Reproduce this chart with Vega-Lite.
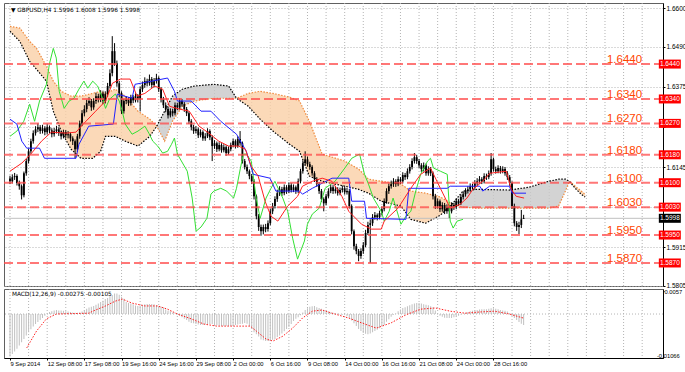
{
"$schema": "https://vega.github.io/schema/vega-lite/v6.json",
"background": "white",
"padding": {"left": 2, "top": 2, "right": 0, "bottom": 0},
"spacing": 3,
"bounds": "flush",
"resolve": {"scale": {"x": "independent", "y": "independent"}},
"config": {
  "view": {"stroke": "#606060", "strokeWidth": 1},
  "font": "Liberation Sans",
  "axis": {"labelFont": "Liberation Sans", "labelColor": "#000", "domainColor": "#000", "tickColor": "#000", "gridColor": "#B4B4B4", "gridDash": [1, 2], "title": null, "labelOverlap": false, "labelBound": false, "labelFlush": false}
},
"datasets": {
"candles": [
{"i":0,"o":1.6112,"h":1.6120,"l":1.6096,"c":1.6104,"m":-0.0105},
{"i":1,"o":1.6104,"h":1.6124,"l":1.6098,"c":1.6116,"m":-0.0099},
{"i":2,"o":1.6116,"h":1.6128,"l":1.6108,"c":1.6119,"m":-0.0093},
{"i":3,"o":1.6119,"h":1.6124,"l":1.6092,"c":1.6099,"m":-0.0086},
{"i":4,"o":1.6099,"h":1.6106,"l":1.6080,"c":1.6090,"m":-0.0078},
{"i":5,"o":1.6090,"h":1.6095,"l":1.6052,"c":1.6064,"m":-0.0070},
{"i":6,"o":1.6064,"h":1.6132,"l":1.6058,"c":1.6127,"m":-0.0062},
{"i":7,"o":1.6127,"h":1.6168,"l":1.6120,"c":1.6162,"m":-0.0053},
{"i":8,"o":1.6162,"h":1.6198,"l":1.6155,"c":1.6190,"m":-0.0045},
{"i":9,"o":1.6190,"h":1.6226,"l":1.6183,"c":1.6219,"m":-0.0038},
{"i":10,"o":1.6219,"h":1.6250,"l":1.6212,"c":1.6242,"m":-0.0031},
{"i":11,"o":1.6242,"h":1.6262,"l":1.6235,"c":1.6253,"m":-0.0025},
{"i":12,"o":1.6253,"h":1.6270,"l":1.6245,"c":1.6259,"m":-0.0020},
{"i":13,"o":1.6259,"h":1.6265,"l":1.6240,"c":1.6248,"m":-0.0015},
{"i":14,"o":1.6248,"h":1.6266,"l":1.6241,"c":1.6256,"m":-0.0010},
{"i":15,"o":1.6256,"h":1.6262,"l":1.6236,"c":1.6245,"m":-0.0004},
{"i":16,"o":1.6245,"h":1.6268,"l":1.6238,"c":1.6259,"m":0.0001},
{"i":17,"o":1.6259,"h":1.6264,"l":1.6242,"c":1.6250,"m":0.0005},
{"i":18,"o":1.6250,"h":1.6256,"l":1.6230,"c":1.6239,"m":0.0007},
{"i":19,"o":1.6239,"h":1.6257,"l":1.6232,"c":1.6248,"m":0.0009},
{"i":20,"o":1.6248,"h":1.6263,"l":1.6241,"c":1.6253,"m":0.0010},
{"i":21,"o":1.6253,"h":1.6259,"l":1.6234,"c":1.6242,"m":0.0009},
{"i":22,"o":1.6242,"h":1.6249,"l":1.6224,"c":1.6233,"m":0.0009},
{"i":23,"o":1.6233,"h":1.6252,"l":1.6227,"c":1.6245,"m":0.0008},
{"i":24,"o":1.6245,"h":1.6251,"l":1.6228,"c":1.6236,"m":0.0007},
{"i":25,"o":1.6236,"h":1.6248,"l":1.6227,"c":1.6239,"m":0.0006},
{"i":26,"o":1.6239,"h":1.6244,"l":1.6218,"c":1.6227,"m":0.0005},
{"i":27,"o":1.6227,"h":1.6233,"l":1.6208,"c":1.6219,"m":0.0004},
{"i":28,"o":1.6219,"h":1.6224,"l":1.6170,"c":1.6196,"m":0.0003},
{"i":29,"o":1.6196,"h":1.6240,"l":1.6188,"c":1.6233,"m":0.0003},
{"i":30,"o":1.6233,"h":1.6278,"l":1.6226,"c":1.6270,"m":0.0004},
{"i":31,"o":1.6270,"h":1.6308,"l":1.6262,"c":1.6299,"m":0.0006},
{"i":32,"o":1.6299,"h":1.6322,"l":1.6290,"c":1.6311,"m":0.0010},
{"i":33,"o":1.6311,"h":1.6338,"l":1.6302,"c":1.6328,"m":0.0013},
{"i":34,"o":1.6328,"h":1.6345,"l":1.6320,"c":1.6334,"m":0.0016},
{"i":35,"o":1.6334,"h":1.6340,"l":1.6306,"c":1.6316,"m":0.0018},
{"i":36,"o":1.6316,"h":1.6342,"l":1.6309,"c":1.6334,"m":0.0020},
{"i":37,"o":1.6334,"h":1.6358,"l":1.6326,"c":1.6348,"m":0.0023},
{"i":38,"o":1.6348,"h":1.6355,"l":1.6330,"c":1.6339,"m":0.0026},
{"i":39,"o":1.6339,"h":1.6365,"l":1.6331,"c":1.6356,"m":0.0030},
{"i":40,"o":1.6356,"h":1.6362,"l":1.6325,"c":1.6334,"m":0.0033},
{"i":41,"o":1.6334,"h":1.6362,"l":1.6327,"c":1.6354,"m":0.0037},
{"i":42,"o":1.6354,"h":1.6386,"l":1.6346,"c":1.6377,"m":0.0040},
{"i":43,"o":1.6377,"h":1.6425,"l":1.6370,"c":1.6414,"m":0.0044},
{"i":44,"o":1.6414,"h":1.6520,"l":1.6405,"c":1.6477,"m":0.0047},
{"i":45,"o":1.6477,"h":1.6500,"l":1.6435,"c":1.6442,"m":0.0051},
{"i":46,"o":1.6442,"h":1.6450,"l":1.6375,"c":1.6385,"m":0.0051},
{"i":47,"o":1.6385,"h":1.6392,"l":1.6345,"c":1.6356,"m":0.0048},
{"i":48,"o":1.6356,"h":1.6362,"l":1.6297,"c":1.6305,"m":0.0043},
{"i":49,"o":1.6305,"h":1.6340,"l":1.6298,"c":1.6334,"m":0.0038},
{"i":50,"o":1.6334,"h":1.6348,"l":1.6325,"c":1.6339,"m":0.0030},
{"i":51,"o":1.6339,"h":1.6345,"l":1.6320,"c":1.6328,"m":0.0027},
{"i":52,"o":1.6328,"h":1.6352,"l":1.6321,"c":1.6345,"m":0.0026},
{"i":53,"o":1.6345,"h":1.6351,"l":1.6328,"c":1.6336,"m":0.0024},
{"i":54,"o":1.6336,"h":1.6356,"l":1.6330,"c":1.6348,"m":0.0021},
{"i":55,"o":1.6348,"h":1.6354,"l":1.6330,"c":1.6339,"m":0.0020},
{"i":56,"o":1.6339,"h":1.6376,"l":1.6305,"c":1.6368,"m":0.0021},
{"i":57,"o":1.6368,"h":1.6390,"l":1.6360,"c":1.6380,"m":0.0023},
{"i":58,"o":1.6380,"h":1.6402,"l":1.6372,"c":1.6391,"m":0.0024},
{"i":59,"o":1.6391,"h":1.6398,"l":1.6376,"c":1.6385,"m":0.0025},
{"i":60,"o":1.6385,"h":1.6410,"l":1.6378,"c":1.6397,"m":0.0025},
{"i":61,"o":1.6397,"h":1.6403,"l":1.6372,"c":1.6380,"m":0.0025},
{"i":62,"o":1.6380,"h":1.6400,"l":1.6373,"c":1.6391,"m":0.0024},
{"i":63,"o":1.6391,"h":1.6412,"l":1.6384,"c":1.6400,"m":0.0022},
{"i":64,"o":1.6400,"h":1.6405,"l":1.6360,"c":1.6368,"m":0.0020},
{"i":65,"o":1.6368,"h":1.6374,"l":1.6330,"c":1.6339,"m":0.0018},
{"i":66,"o":1.6339,"h":1.6346,"l":1.6314,"c":1.6322,"m":0.0016},
{"i":67,"o":1.6322,"h":1.6330,"l":1.6302,"c":1.6311,"m":0.0011},
{"i":68,"o":1.6311,"h":1.6318,"l":1.6284,"c":1.6293,"m":0.0008},
{"i":69,"o":1.6293,"h":1.6313,"l":1.6287,"c":1.6305,"m":0.0007},
{"i":70,"o":1.6305,"h":1.6312,"l":1.6290,"c":1.6299,"m":0.0004},
{"i":71,"o":1.6299,"h":1.6330,"l":1.6293,"c":1.6322,"m":0.0001},
{"i":72,"o":1.6322,"h":1.6329,"l":1.6308,"c":1.6316,"m":-0.0001},
{"i":73,"o":1.6316,"h":1.6342,"l":1.6310,"c":1.6334,"m":-0.0005},
{"i":74,"o":1.6334,"h":1.6340,"l":1.6318,"c":1.6325,"m":-0.0008},
{"i":75,"o":1.6325,"h":1.6331,"l":1.6303,"c":1.6311,"m":-0.0012},
{"i":76,"o":1.6311,"h":1.6317,"l":1.6291,"c":1.6299,"m":-0.0015},
{"i":77,"o":1.6299,"h":1.6304,"l":1.6268,"c":1.6276,"m":-0.0019},
{"i":78,"o":1.6276,"h":1.6282,"l":1.6250,"c":1.6259,"m":-0.0022},
{"i":79,"o":1.6259,"h":1.6266,"l":1.6240,"c":1.6248,"m":-0.0023},
{"i":80,"o":1.6248,"h":1.6262,"l":1.6241,"c":1.6253,"m":-0.0025},
{"i":81,"o":1.6253,"h":1.6258,"l":1.6228,"c":1.6236,"m":-0.0026},
{"i":82,"o":1.6236,"h":1.6253,"l":1.6230,"c":1.6245,"m":-0.0027},
{"i":83,"o":1.6245,"h":1.6250,"l":1.6220,"c":1.6227,"m":-0.0027},
{"i":84,"o":1.6227,"h":1.6242,"l":1.6220,"c":1.6233,"m":-0.0026},
{"i":85,"o":1.6233,"h":1.6256,"l":1.6228,"c":1.6248,"m":-0.0026},
{"i":86,"o":1.6248,"h":1.6253,"l":1.6222,"c":1.6230,"m":-0.0025},
{"i":87,"o":1.6230,"h":1.6236,"l":1.6162,"c":1.6205,"m":-0.0025},
{"i":88,"o":1.6205,"h":1.6222,"l":1.6197,"c":1.6213,"m":-0.0027},
{"i":89,"o":1.6213,"h":1.6218,"l":1.6188,"c":1.6196,"m":-0.0028},
{"i":90,"o":1.6196,"h":1.6216,"l":1.6190,"c":1.6208,"m":-0.0029},
{"i":91,"o":1.6208,"h":1.6213,"l":1.6186,"c":1.6193,"m":-0.0030},
{"i":92,"o":1.6193,"h":1.6210,"l":1.6187,"c":1.6202,"m":-0.0030},
{"i":93,"o":1.6202,"h":1.6207,"l":1.6177,"c":1.6185,"m":-0.0030},
{"i":94,"o":1.6185,"h":1.6204,"l":1.6180,"c":1.6196,"m":-0.0030},
{"i":95,"o":1.6196,"h":1.6215,"l":1.6190,"c":1.6208,"m":-0.0030},
{"i":96,"o":1.6208,"h":1.6226,"l":1.6202,"c":1.6219,"m":-0.0029},
{"i":97,"o":1.6219,"h":1.6224,"l":1.6198,"c":1.6205,"m":-0.0027},
{"i":98,"o":1.6205,"h":1.6233,"l":1.6200,"c":1.6225,"m":-0.0026},
{"i":99,"o":1.6225,"h":1.6248,"l":1.6206,"c":1.6213,"m":-0.0025},
{"i":100,"o":1.6213,"h":1.6218,"l":1.6155,"c":1.6162,"m":-0.0024},
{"i":101,"o":1.6162,"h":1.6168,"l":1.6138,"c":1.6145,"m":-0.0022},
{"i":102,"o":1.6145,"h":1.6152,"l":1.6125,"c":1.6133,"m":-0.0024},
{"i":103,"o":1.6133,"h":1.6138,"l":1.6110,"c":1.6119,"m":-0.0030},
{"i":104,"o":1.6119,"h":1.6125,"l":1.6096,"c":1.6104,"m":-0.0037},
{"i":105,"o":1.6104,"h":1.6110,"l":1.6052,"c":1.6061,"m":-0.0045},
{"i":106,"o":1.6061,"h":1.6066,"l":1.5995,"c":1.6004,"m":-0.0050},
{"i":107,"o":1.6004,"h":1.6010,"l":1.5962,"c":1.5973,"m":-0.0056},
{"i":108,"o":1.5973,"h":1.5980,"l":1.5948,"c":1.5961,"m":-0.0063},
{"i":109,"o":1.5961,"h":1.5980,"l":1.5952,"c":1.5973,"m":-0.0065},
{"i":110,"o":1.5973,"h":1.5982,"l":1.5958,"c":1.5967,"m":-0.0067},
{"i":111,"o":1.5967,"h":1.5992,"l":1.5960,"c":1.5984,"m":-0.0067},
{"i":112,"o":1.5984,"h":1.6026,"l":1.5978,"c":1.6018,"m":-0.0067},
{"i":113,"o":1.6018,"h":1.6042,"l":1.6010,"c":1.6033,"m":-0.0064},
{"i":114,"o":1.6033,"h":1.6061,"l":1.6026,"c":1.6053,"m":-0.0062},
{"i":115,"o":1.6053,"h":1.6080,"l":1.6045,"c":1.6070,"m":-0.0057},
{"i":116,"o":1.6070,"h":1.6090,"l":1.6062,"c":1.6081,"m":-0.0053},
{"i":117,"o":1.6081,"h":1.6088,"l":1.6062,"c":1.6070,"m":-0.0048},
{"i":118,"o":1.6070,"h":1.6095,"l":1.6064,"c":1.6087,"m":-0.0043},
{"i":119,"o":1.6087,"h":1.6093,"l":1.6068,"c":1.6076,"m":-0.0037},
{"i":120,"o":1.6076,"h":1.6101,"l":1.6070,"c":1.6093,"m":-0.0032},
{"i":121,"o":1.6093,"h":1.6099,"l":1.6072,"c":1.6079,"m":-0.0025},
{"i":122,"o":1.6079,"h":1.6095,"l":1.6073,"c":1.6087,"m":-0.0017},
{"i":123,"o":1.6087,"h":1.6092,"l":1.6068,"c":1.6076,"m":-0.0012},
{"i":124,"o":1.6076,"h":1.6112,"l":1.6070,"c":1.6104,"m":-0.0008},
{"i":125,"o":1.6104,"h":1.6140,"l":1.6098,"c":1.6133,"m":-0.0003},
{"i":126,"o":1.6133,"h":1.6164,"l":1.6126,"c":1.6156,"m":0.0004},
{"i":127,"o":1.6156,"h":1.6190,"l":1.6150,"c":1.6167,"m":0.0010},
{"i":128,"o":1.6167,"h":1.6175,"l":1.6146,"c":1.6153,"m":0.0014},
{"i":129,"o":1.6153,"h":1.6160,"l":1.6137,"c":1.6145,"m":0.0018},
{"i":130,"o":1.6145,"h":1.6150,"l":1.6120,"c":1.6127,"m":0.0019},
{"i":131,"o":1.6127,"h":1.6133,"l":1.6102,"c":1.6110,"m":0.0020},
{"i":132,"o":1.6110,"h":1.6116,"l":1.6088,"c":1.6096,"m":0.0017},
{"i":133,"o":1.6096,"h":1.6102,"l":1.6068,"c":1.6076,"m":0.0015},
{"i":134,"o":1.6076,"h":1.6082,"l":1.6045,"c":1.6053,"m":0.0013},
{"i":135,"o":1.6053,"h":1.6058,"l":1.6018,"c":1.6041,"m":0.0010},
{"i":136,"o":1.6041,"h":1.6068,"l":1.6035,"c":1.6061,"m":0.0008},
{"i":137,"o":1.6061,"h":1.6084,"l":1.6055,"c":1.6076,"m":0.0006},
{"i":138,"o":1.6076,"h":1.6095,"l":1.6070,"c":1.6087,"m":0.0004},
{"i":139,"o":1.6087,"h":1.6093,"l":1.6068,"c":1.6076,"m":0.0003},
{"i":140,"o":1.6076,"h":1.6090,"l":1.6069,"c":1.6081,"m":0.0002},
{"i":141,"o":1.6081,"h":1.6087,"l":1.6063,"c":1.6070,"m":0.0001},
{"i":142,"o":1.6070,"h":1.6086,"l":1.6064,"c":1.6079,"m":-0.0001},
{"i":143,"o":1.6079,"h":1.6092,"l":1.6072,"c":1.6084,"m":-0.0002},
{"i":144,"o":1.6084,"h":1.6090,"l":1.6066,"c":1.6073,"m":-0.0002},
{"i":145,"o":1.6073,"h":1.6085,"l":1.6066,"c":1.6076,"m":-0.0005},
{"i":146,"o":1.6076,"h":1.6082,"l":1.6026,"c":1.6033,"m":-0.0009},
{"i":147,"o":1.6033,"h":1.6038,"l":1.5952,"c":1.5961,"m":-0.0016},
{"i":148,"o":1.5961,"h":1.5966,"l":1.5908,"c":1.5918,"m":-0.0023},
{"i":149,"o":1.5918,"h":1.5925,"l":1.5895,"c":1.5904,"m":-0.0030},
{"i":150,"o":1.5904,"h":1.5910,"l":1.5875,"c":1.5890,"m":-0.0037},
{"i":151,"o":1.5890,"h":1.5912,"l":1.5882,"c":1.5904,"m":-0.0042},
{"i":152,"o":1.5904,"h":1.5930,"l":1.5896,"c":1.5921,"m":-0.0047},
{"i":153,"o":1.5921,"h":1.5965,"l":1.5915,"c":1.5956,"m":-0.0049},
{"i":154,"o":1.5956,"h":1.5988,"l":1.5950,"c":1.5979,"m":-0.0050},
{"i":155,"o":1.5979,"h":1.5995,"l":1.5870,"c":1.5984,"m":-0.0048},
{"i":156,"o":1.5984,"h":1.6010,"l":1.5976,"c":1.6001,"m":-0.0045},
{"i":157,"o":1.6001,"h":1.6016,"l":1.5994,"c":1.6007,"m":-0.0042},
{"i":158,"o":1.6007,"h":1.6012,"l":1.5992,"c":1.6001,"m":-0.0039},
{"i":159,"o":1.6001,"h":1.6020,"l":1.5995,"c":1.6013,"m":-0.0035},
{"i":160,"o":1.6013,"h":1.6032,"l":1.6006,"c":1.6024,"m":-0.0030},
{"i":161,"o":1.6024,"h":1.6055,"l":1.6018,"c":1.6047,"m":-0.0027},
{"i":162,"o":1.6047,"h":1.6084,"l":1.6040,"c":1.6076,"m":-0.0019},
{"i":163,"o":1.6076,"h":1.6098,"l":1.6068,"c":1.6090,"m":-0.0013},
{"i":164,"o":1.6090,"h":1.6106,"l":1.6083,"c":1.6096,"m":-0.0007},
{"i":165,"o":1.6096,"h":1.6113,"l":1.6088,"c":1.6104,"m":-0.0002},
{"i":166,"o":1.6104,"h":1.6110,"l":1.6088,"c":1.6096,"m":0.0001},
{"i":167,"o":1.6096,"h":1.6118,"l":1.6090,"c":1.6110,"m":0.0007},
{"i":168,"o":1.6110,"h":1.6116,"l":1.6096,"c":1.6104,"m":0.0011},
{"i":169,"o":1.6104,"h":1.6130,"l":1.6098,"c":1.6122,"m":0.0015},
{"i":170,"o":1.6122,"h":1.6128,"l":1.6108,"c":1.6116,"m":0.0017},
{"i":171,"o":1.6116,"h":1.6141,"l":1.6110,"c":1.6133,"m":0.0019},
{"i":172,"o":1.6133,"h":1.6153,"l":1.6126,"c":1.6145,"m":0.0022},
{"i":173,"o":1.6145,"h":1.6170,"l":1.6138,"c":1.6162,"m":0.0024},
{"i":174,"o":1.6162,"h":1.6185,"l":1.6155,"c":1.6173,"m":0.0026},
{"i":175,"o":1.6173,"h":1.6180,"l":1.6154,"c":1.6162,"m":0.0027},
{"i":176,"o":1.6162,"h":1.6168,"l":1.6142,"c":1.6150,"m":0.0027},
{"i":177,"o":1.6150,"h":1.6156,"l":1.6131,"c":1.6139,"m":0.0026},
{"i":178,"o":1.6139,"h":1.6158,"l":1.6132,"c":1.6150,"m":0.0024},
{"i":179,"o":1.6150,"h":1.6155,"l":1.6120,"c":1.6127,"m":0.0023},
{"i":180,"o":1.6127,"h":1.6147,"l":1.6120,"c":1.6139,"m":0.0022},
{"i":181,"o":1.6139,"h":1.6145,"l":1.6119,"c":1.6127,"m":0.0019},
{"i":182,"o":1.6127,"h":1.6132,"l":1.6052,"c":1.6061,"m":0.0017},
{"i":183,"o":1.6061,"h":1.6068,"l":1.6025,"c":1.6033,"m":0.0009},
{"i":184,"o":1.6033,"h":1.6055,"l":1.6026,"c":1.6047,"m":0.0002},
{"i":185,"o":1.6047,"h":1.6052,"l":1.6016,"c":1.6024,"m":-0.0004},
{"i":186,"o":1.6024,"h":1.6044,"l":1.6017,"c":1.6036,"m":-0.0007},
{"i":187,"o":1.6036,"h":1.6042,"l":1.6010,"c":1.6018,"m":-0.0009},
{"i":188,"o":1.6018,"h":1.6038,"l":1.6011,"c":1.6030,"m":-0.0010},
{"i":189,"o":1.6030,"h":1.6035,"l":1.5999,"c":1.6018,"m":-0.0010},
{"i":190,"o":1.6018,"h":1.6044,"l":1.6012,"c":1.6036,"m":-0.0010},
{"i":191,"o":1.6036,"h":1.6042,"l":1.6022,"c":1.6030,"m":-0.0008},
{"i":192,"o":1.6030,"h":1.6055,"l":1.6024,"c":1.6047,"m":-0.0006},
{"i":193,"o":1.6047,"h":1.6053,"l":1.6034,"c":1.6041,"m":-0.0004},
{"i":194,"o":1.6041,"h":1.6066,"l":1.6036,"c":1.6059,"m":-0.0001},
{"i":195,"o":1.6059,"h":1.6075,"l":1.6052,"c":1.6067,"m":0.0000},
{"i":196,"o":1.6067,"h":1.6084,"l":1.6060,"c":1.6076,"m":0.0003},
{"i":197,"o":1.6076,"h":1.6090,"l":1.6069,"c":1.6081,"m":0.0005},
{"i":198,"o":1.6081,"h":1.6098,"l":1.6074,"c":1.6090,"m":0.0007},
{"i":199,"o":1.6090,"h":1.6097,"l":1.6080,"c":1.6087,"m":0.0008},
{"i":200,"o":1.6087,"h":1.6107,"l":1.6080,"c":1.6099,"m":0.0009},
{"i":201,"o":1.6099,"h":1.6113,"l":1.6092,"c":1.6104,"m":0.0010},
{"i":202,"o":1.6104,"h":1.6119,"l":1.6097,"c":1.6110,"m":0.0011},
{"i":203,"o":1.6110,"h":1.6116,"l":1.6096,"c":1.6104,"m":0.0012},
{"i":204,"o":1.6104,"h":1.6127,"l":1.6098,"c":1.6119,"m":0.0012},
{"i":205,"o":1.6119,"h":1.6126,"l":1.6108,"c":1.6116,"m":0.0012},
{"i":206,"o":1.6116,"h":1.6135,"l":1.6110,"c":1.6127,"m":0.0013},
{"i":207,"o":1.6127,"h":1.6185,"l":1.6120,"c":1.6167,"m":0.0014},
{"i":208,"o":1.6167,"h":1.6172,"l":1.6132,"c":1.6139,"m":0.0014},
{"i":209,"o":1.6139,"h":1.6146,"l":1.6126,"c":1.6133,"m":0.0013},
{"i":210,"o":1.6133,"h":1.6150,"l":1.6127,"c":1.6142,"m":0.0012},
{"i":211,"o":1.6142,"h":1.6148,"l":1.6126,"c":1.6133,"m":0.0010},
{"i":212,"o":1.6133,"h":1.6147,"l":1.6127,"c":1.6139,"m":0.0009},
{"i":213,"o":1.6139,"h":1.6145,"l":1.6120,"c":1.6127,"m":0.0008},
{"i":214,"o":1.6127,"h":1.6133,"l":1.6108,"c":1.6116,"m":0.0006},
{"i":215,"o":1.6116,"h":1.6122,"l":1.6091,"c":1.6099,"m":0.0002},
{"i":216,"o":1.6099,"h":1.6104,"l":1.6025,"c":1.6033,"m":-0.0004},
{"i":217,"o":1.6033,"h":1.6040,"l":1.5975,"c":1.5984,"m":-0.0010},
{"i":218,"o":1.5984,"h":1.5990,"l":1.5962,"c":1.5973,"m":-0.0015},
{"i":219,"o":1.5973,"h":1.5988,"l":1.5953,"c":1.5979,"m":-0.0020},
{"i":220,"o":1.5979,"h":1.6022,"l":1.5970,"c":1.5995,"m":-0.0024},
{"i":221,"o":1.5996,"h":1.6008,"l":1.5996,"c":1.5998,"m":-0.00275}
],
"tenkan": [
{"i":0,"v":1.6133},{"i":5.08,"v":1.6156},{"i":9.32,"v":1.6185},{"i":13.56,"v":1.6219},{"i":17.8,"v":1.6245},{"i":24.15,"v":1.6242},{"i":28.4,"v":1.6245},{"i":31.8,"v":1.627},{"i":36.86,"v":1.6305},{"i":41.1,"v":1.6334},{"i":44.07,"v":1.6385},{"i":47.46,"v":1.6397},{"i":51.7,"v":1.6397},{"i":54.66,"v":1.6348},{"i":58.05,"v":1.6356},{"i":62.29,"v":1.6377},{"i":65.68,"v":1.6368},{"i":68.64,"v":1.6319},{"i":72.88,"v":1.6311},{"i":77.12,"v":1.6305},{"i":81.36,"v":1.6262},{"i":85.59,"v":1.6242},{"i":89.83,"v":1.6219},{"i":94.07,"v":1.6205},{"i":98.3,"v":1.6205},{"i":101.27,"v":1.6196},{"i":103.81,"v":1.6147},{"i":106.78,"v":1.6119},{"i":109.75,"v":1.6047},{"i":112.29,"v":1.6004},{"i":115.25,"v":1.599},{"i":119.49,"v":1.6033},{"i":123.73,"v":1.6061},{"i":125.85,"v":1.609},{"i":130.08,"v":1.6104},{"i":134.32,"v":1.6113},{"i":138.56,"v":1.6104},{"i":142.8,"v":1.6061},{"i":145.76,"v":1.6018},{"i":151.27,"v":1.5981},{"i":155.51,"v":1.5967},{"i":159.75,"v":1.5967},{"i":161.02,"v":1.599},{"i":166.95,"v":1.6027},{"i":172.46,"v":1.6084},{"i":176.69,"v":1.6124},{"i":180.93,"v":1.6142},{"i":185.17,"v":1.6084},{"i":189.41,"v":1.6027},{"i":193.64,"v":1.6038},{"i":196.61,"v":1.6056},{"i":199.15,"v":1.6081},{"i":203.39,"v":1.6104},{"i":206.36,"v":1.6127},{"i":213.56,"v":1.6133},{"i":215.68,"v":1.6081},{"i":217.8,"v":1.6061},{"i":221.19,"v":1.6056}
],
"kijun": [
{"i":0,"v":1.6282},{"i":2.97,"v":1.6268},{"i":5.08,"v":1.6219},{"i":7.2,"v":1.6199},{"i":12.71,"v":1.6199},{"i":14.83,"v":1.617},{"i":28.39,"v":1.617},{"i":29.66,"v":1.621},{"i":33.9,"v":1.6262},{"i":44.49,"v":1.6268},{"i":46.19,"v":1.6354},{"i":52.54,"v":1.6342},{"i":53.81,"v":1.6382},{"i":61.02,"v":1.6391},{"i":67.8,"v":1.64},{"i":70.76,"v":1.6362},{"i":72.03,"v":1.6334},{"i":77.97,"v":1.6334},{"i":82.2,"v":1.6305},{"i":86.44,"v":1.6305},{"i":90.68,"v":1.6276},{"i":97.46,"v":1.6239},{"i":101.69,"v":1.619},{"i":104.66,"v":1.6124},{"i":111.86,"v":1.6113},{"i":114.41,"v":1.6076},{"i":124.58,"v":1.6076},{"i":125.85,"v":1.6067},{"i":130.08,"v":1.6084},{"i":138.56,"v":1.6113},{"i":145.76,"v":1.6113},{"i":147.03,"v":1.6047},{"i":152.54,"v":1.6047},{"i":153.39,"v":1.5998},{"i":170.34,"v":1.5995},{"i":171.61,"v":1.6084},{"i":188.14,"v":1.6084},{"i":189.41,"v":1.609},{"i":202.12,"v":1.609},{"i":203.39,"v":1.6076},{"i":206.36,"v":1.609},{"i":214.83,"v":1.609},{"i":216.1,"v":1.607},{"i":222.03,"v":1.607}
],
"chikou": [
{"i":0,"v":1.6233},{"i":2.97,"v":1.6248},{"i":5.93,"v":1.6276},{"i":8.47,"v":1.6325},{"i":10.59,"v":1.6276},{"i":12.71,"v":1.6334},{"i":15.68,"v":1.6382},{"i":16.95,"v":1.644},{"i":18.64,"v":1.6485},{"i":19.92,"v":1.6457},{"i":21.19,"v":1.6362},{"i":23.31,"v":1.6313},{"i":25.42,"v":1.6334},{"i":27.54,"v":1.6342},{"i":29.66,"v":1.6368},{"i":31.78,"v":1.6391},{"i":33.47,"v":1.6371},{"i":35.59,"v":1.6391},{"i":37.71,"v":1.6377},{"i":39.83,"v":1.6342},{"i":41.1,"v":1.6313},{"i":42.8,"v":1.6339},{"i":45.34,"v":1.6354},{"i":47.03,"v":1.6334},{"i":48.31,"v":1.6305},{"i":49.58,"v":1.6268},{"i":52.54,"v":1.6239},{"i":55.08,"v":1.6248},{"i":58.05,"v":1.6262},{"i":59.75,"v":1.6242},{"i":61.44,"v":1.6219},{"i":63.56,"v":1.6205},{"i":65.68,"v":1.6185},{"i":67.8,"v":1.619},{"i":69.49,"v":1.621},{"i":70.76,"v":1.6228},{"i":72.03,"v":1.6182},{"i":76.27,"v":1.6133},{"i":78.39,"v":1.6056},{"i":80.08,"v":1.5961},{"i":82.2,"v":1.5973},{"i":84.75,"v":1.5998},{"i":86.44,"v":1.6067},{"i":87.71,"v":1.6076},{"i":90.68,"v":1.6084},{"i":93.22,"v":1.6076},{"i":96.19,"v":1.6056},{"i":97.46,"v":1.6084},{"i":99.15,"v":1.6142},{"i":100.42,"v":1.6182},{"i":101.69,"v":1.6182},{"i":103.81,"v":1.6162},{"i":105.93,"v":1.6056},{"i":107.63,"v":1.5998},{"i":110.17,"v":1.6056},{"i":112.29,"v":1.6084},{"i":113.98,"v":1.6104},{"i":117.37,"v":1.6056},{"i":119.49,"v":1.6018},{"i":121.61,"v":1.5941},{"i":123.73,"v":1.5881},{"i":126.69,"v":1.5933},{"i":127.97,"v":1.5981},{"i":130.08,"v":1.601},{"i":133.05,"v":1.6027},{"i":135.59,"v":1.6084},{"i":139.83,"v":1.6104},{"i":144.07,"v":1.6142},{"i":147.03,"v":1.617},{"i":150.42,"v":1.6182},{"i":152.54,"v":1.6124},{"i":154.24,"v":1.6096},{"i":156.36,"v":1.6056},{"i":159.75,"v":1.6018},{"i":161.02,"v":1.599},{"i":163.14,"v":1.6018},{"i":164.83,"v":1.6056},{"i":168.22,"v":1.5981},{"i":170.34,"v":1.6004},{"i":172.46,"v":1.6018},{"i":174.58,"v":1.6076},{"i":176.69,"v":1.6124},{"i":179.66,"v":1.6162},{"i":180.93,"v":1.617},{"i":182.2,"v":1.6142},{"i":185.17,"v":1.6133},{"i":188.14,"v":1.6124},{"i":189.41,"v":1.599},{"i":190.68,"v":1.597},{"i":192.37,"v":1.599},{"i":194.92,"v":1.5995}
],
"cloud": [
{"g":1,"k":"bull","i":0,"a":1.6548,"b":1.6534},
{"g":1,"k":"bull","i":4.24,"a":1.6543,"b":1.6505},
{"g":1,"k":"bull","i":8.47,"a":1.6505,"b":1.6448},
{"g":1,"k":"bull","i":11.44,"a":1.6485,"b":1.6425},
{"g":1,"k":"bull","i":15.68,"a":1.6434,"b":1.6391},
{"g":1,"k":"bull","i":18.64,"a":1.6391,"b":1.6305},
{"g":1,"k":"bull","i":22.03,"a":1.6362,"b":1.6248},
{"g":1,"k":"bull","i":26.27,"a":1.6348,"b":1.6196},
{"g":1,"k":"bull","i":30.51,"a":1.6348,"b":1.617},
{"g":1,"k":"bull","i":35.59,"a":1.6356,"b":1.617},
{"g":1,"k":"bull","i":38.98,"a":1.6362,"b":1.619},
{"g":1,"k":"bull","i":41.1,"a":1.6356,"b":1.6233},
{"g":1,"k":"bull","i":45.34,"a":1.6368,"b":1.6233},
{"g":1,"k":"bull","i":49.58,"a":1.6348,"b":1.6219},
{"g":1,"k":"bull","i":55.08,"a":1.6305,"b":1.6205},
{"g":1,"k":"bull","i":60.17,"a":1.6282,"b":1.6233},
{"g":1,"k":"bull","i":63.14,"a":1.6262,"b":1.6262},
{"g":2,"k":"bear","i":63.14,"a":1.6262,"b":1.6262},
{"g":2,"k":"bear","i":66.53,"a":1.6219,"b":1.6305},
{"g":2,"k":"bear","i":69.92,"a":1.6276,"b":1.6348},
{"g":2,"k":"bear","i":74.15,"a":1.6319,"b":1.6368},
{"g":2,"k":"bear","i":79.24,"a":1.6334,"b":1.6377},
{"g":2,"k":"bear","i":87.71,"a":1.6342,"b":1.6382},
{"g":2,"k":"bear","i":94.07,"a":1.6342,"b":1.6377},
{"g":2,"k":"bear","i":97.46,"a":1.6342,"b":1.6342},
{"g":3,"k":"bull","i":97.46,"a":1.6342,"b":1.6342},
{"g":3,"k":"bull","i":102.54,"a":1.6356,"b":1.6319},
{"g":3,"k":"bull","i":107.63,"a":1.6362,"b":1.6282},
{"g":3,"k":"bull","i":113.14,"a":1.6356,"b":1.6248},
{"g":3,"k":"bull","i":120.34,"a":1.6345,"b":1.621},
{"g":3,"k":"bull","i":124.58,"a":1.6334,"b":1.619},
{"g":3,"k":"bull","i":128.81,"a":1.6276,"b":1.6119},
{"g":3,"k":"bull","i":134.32,"a":1.6182,"b":1.6104},
{"g":3,"k":"bull","i":144.07,"a":1.6162,"b":1.609},
{"g":3,"k":"bull","i":150,"a":1.6139,"b":1.6081},
{"g":3,"k":"bull","i":154.24,"a":1.611,"b":1.607},
{"g":3,"k":"bull","i":159.75,"a":1.6104,"b":1.6047},
{"g":3,"k":"bull","i":168.22,"a":1.6096,"b":1.6033},
{"g":3,"k":"bull","i":172.46,"a":1.6076,"b":1.5995},
{"g":3,"k":"bull","i":178.81,"a":1.607,"b":1.5984},
{"g":3,"k":"bull","i":185.17,"a":1.6059,"b":1.6007},
{"g":3,"k":"bull","i":190.25,"a":1.6039,"b":1.6039},
{"g":4,"k":"bear","i":190.25,"a":1.6039,"b":1.6039},
{"g":4,"k":"bear","i":194.92,"a":1.603,"b":1.6076},
{"g":4,"k":"bear","i":200.85,"a":1.6027,"b":1.6081},
{"g":4,"k":"bear","i":214.83,"a":1.6027,"b":1.6079},
{"g":4,"k":"bear","i":223.31,"a":1.6027,"b":1.6087},
{"g":4,"k":"bear","i":231.78,"a":1.6027,"b":1.6104},
{"g":4,"k":"bear","i":236.02,"a":1.6033,"b":1.611},
{"g":4,"k":"bear","i":238.98,"a":1.6076,"b":1.611},
{"g":4,"k":"bear","i":240.68,"a":1.6104,"b":1.6104},
{"g":5,"k":"bull","i":240.68,"a":1.6104,"b":1.6104},
{"g":5,"k":"bull","i":243.22,"a":1.609,"b":1.6084},
{"g":5,"k":"bull","i":245.76,"a":1.6076,"b":1.6067},
{"g":5,"k":"bull","i":247.46,"a":1.6067,"b":1.6059}
],
"signal": [
{"i":7.2,"v":-0.0084},{"i":11.44,"v":-0.0042},{"i":15.68,"v":-0.0012},{"i":19.92,"v":0.0},{"i":33.9,"v":0.0002},{"i":35.59,"v":0.0007},{"i":41.1,"v":0.002},{"i":45.34,"v":0.0032},{"i":48.31,"v":0.0037},{"i":52.54,"v":0.0027},{"i":58.05,"v":0.002},{"i":63.56,"v":0.002},{"i":67.8,"v":0.0012},{"i":72.03,"v":0.0},{"i":77.97,"v":-0.0012},{"i":83.47,"v":-0.0025},{"i":88.98,"v":-0.003},{"i":103.39,"v":-0.003},{"i":105.93,"v":-0.0042},{"i":110.17,"v":-0.0062},{"i":113.14,"v":-0.0067},{"i":117.37,"v":-0.0055},{"i":121.61,"v":-0.0035},{"i":125.85,"v":-0.001},{"i":130.08,"v":0.0007},{"i":134.32,"v":0.001},{"i":138.56,"v":0.0002},{"i":145.76,"v":-0.001},{"i":151.27,"v":-0.0022},{"i":157.63,"v":-0.0035},{"i":163.98,"v":-0.0022},{"i":170.34,"v":-0.0002},{"i":176.69,"v":0.0012},{"i":183.05,"v":0.0015},{"i":189.41,"v":0.0007},{"i":195.76,"v":0.0002},{"i":202.12,"v":0.0005},{"i":208.47,"v":0.0007},{"i":214.83,"v":0.0},{"i":221.19,"v":-0.00105}
],
"vgrid": [{"i":0},{"i":8},{"i":16},{"i":24},{"i":32},{"i":40},{"i":48},{"i":56},{"i":64},{"i":72},{"i":80},{"i":88},{"i":96},{"i":104},{"i":112},{"i":120},{"i":128},{"i":136},{"i":144},{"i":152},{"i":160},{"i":168},{"i":176},{"i":184},{"i":192},{"i":200},{"i":208},{"i":216},{"i":224},{"i":232},{"i":240},{"i":248},{"i":256},{"i":264},{"i":272}],
"levels": [
{"lv":1.644,"t":"1.6440"},{"lv":1.634,"t":"1.6340"},{"lv":1.627,"t":"1.6270"},{"lv":1.618,"t":"1.6180"},{"lv":1.61,"t":"1.6100"},{"lv":1.603,"t":"1.6030"},{"lv":1.595,"t":"1.5950"},{"lv":1.587,"t":"1.5870"}
],
"bid": [{"lv":1.5998,"t":"1.5998"}],
"macdmin": [{"v":-0.01066,"t":"-0.01066"}],
"title": [{"t":"▼ GBPUSD,H4  1.5996 1.6008 1.5996 1.5998"}],
"macdtitle": [{"t":"MACD(12,26,9) -0.00275 -0.00105"}]
},
"vconcat": [
{
 "width": 659, "height": 283,
 "layer": [
  {"data":{"name":"vgrid"},"mark":{"type":"rule","color":"#B4B4B4","strokeDash":[1,2],"strokeWidth":1},
   "encoding":{"x":{"field":"i","type":"quantitative","scale":{"domain":[-0.424,278.81],"nice":false,"zero":false},"axis":null}}},
  {"data":{"name":"cloud"},"mark":{"type":"area","opacity":0.8,"line":false},
   "encoding":{"x":{"field":"i","type":"quantitative","scale":{"domain":[-0.424,278.81],"nice":false,"zero":false},"axis":null},
    "y":{"field":"a","type":"quantitative","scale":{"domain":[1.5804,1.6615],"nice":false,"zero":false},"axis":{"orient":"right","values":[1.66,1.6545,1.649,1.643,1.6375,1.6315,1.626,1.62,1.6145,1.609,1.603,1.5975,1.5915,1.586,1.5805],"labelExpr":"(datum.value == 1.603 || datum.value == 1.626 || datum.value == 1.609 || datum.value == 1.586) ? '' : format(datum.value, '.4f')","grid":true,"tickSize":2,"labelFontSize":6.5,"labelPadding":1,"labelOverlap":false}},
    "y2":{"field":"b"},"detail":{"field":"g"},
    "color":{"field":"k","type":"nominal","scale":{"domain":["bull","bear"],"range":["#FAD0A6","#C8C8C8"]},"legend":null}}},
  {"data":{"name":"cloud"},"mark":{"type":"line","color":"#F08A3C","strokeWidth":1.2,"strokeDash":[1.5,1.5]},
   "encoding":{"x":{"field":"i","type":"quantitative","scale":{"domain":[-0.424,278.81],"nice":false,"zero":false}},"y":{"field":"a","type":"quantitative","scale":{"domain":[1.5804,1.6615],"nice":false,"zero":false}}}},
  {"data":{"name":"cloud"},"mark":{"type":"line","color":"#000000","strokeWidth":1.2,"strokeDash":[1.5,1.5]},
   "encoding":{"x":{"field":"i","type":"quantitative","scale":{"domain":[-0.424,278.81],"nice":false,"zero":false}},"y":{"field":"b","type":"quantitative","scale":{"domain":[1.5804,1.6615],"nice":false,"zero":false}}}},
  {"data":{"name":"bid"},"mark":{"type":"rule","color":"#C0C0C0","strokeWidth":1},
   "encoding":{"y":{"field":"lv","type":"quantitative","scale":{"domain":[1.5804,1.6615],"nice":false,"zero":false}}}},
  {"data":{"name":"candles"},"mark":{"type":"rule","color":"#000000","strokeWidth":1},
   "encoding":{"x":{"field":"i","type":"quantitative","scale":{"domain":[-0.424,278.81],"nice":false,"zero":false}},"y":{"field":"l","type":"quantitative","scale":{"domain":[1.5804,1.6615],"nice":false,"zero":false}},"y2":{"field":"h"}}},
  {"data":{"name":"candles"},"mark":{"type":"bar","color":"#000000","size":1.8,"orient":"vertical"},
   "encoding":{"x":{"field":"i","type":"quantitative","scale":{"domain":[-0.424,278.81],"nice":false,"zero":false}},"y":{"field":"o","type":"quantitative","scale":{"domain":[1.5804,1.6615],"nice":false,"zero":false}},"y2":{"field":"c"}}},
  {"data":{"name":"chikou"},"mark":{"type":"line","color":"#33E033","strokeWidth":1},
   "encoding":{"x":{"field":"i","type":"quantitative","scale":{"domain":[-0.424,278.81],"nice":false,"zero":false}},"y":{"field":"v","type":"quantitative","scale":{"domain":[1.5804,1.6615],"nice":false,"zero":false}}}},
  {"data":{"name":"kijun"},"mark":{"type":"line","color":"#2020FF","strokeWidth":1},
   "encoding":{"x":{"field":"i","type":"quantitative","scale":{"domain":[-0.424,278.81],"nice":false,"zero":false}},"y":{"field":"v","type":"quantitative","scale":{"domain":[1.5804,1.6615],"nice":false,"zero":false}}}},
  {"data":{"name":"tenkan"},"mark":{"type":"line","color":"#FF2020","strokeWidth":1},
   "encoding":{"x":{"field":"i","type":"quantitative","scale":{"domain":[-0.424,278.81],"nice":false,"zero":false}},"y":{"field":"v","type":"quantitative","scale":{"domain":[1.5804,1.6615],"nice":false,"zero":false}}}},
  {"data":{"name":"levels"},"mark":{"type":"rule","color":"#FF4A4A","strokeWidth":2,"strokeDash":[9,4],"opacity":0.75},
   "encoding":{"y":{"field":"lv","type":"quantitative","scale":{"domain":[1.5804,1.6615],"nice":false,"zero":false}}}},
  {"data":{"name":"levels"},"mark":{"type":"text","color":"#FF4500","fontSize":11.5,"font":"Liberation Sans","align":"center","baseline":"alphabetic","dy":-1},
   "encoding":{"x":{"datum":264.4},"y":{"field":"lv","type":"quantitative","scale":{"domain":[1.5804,1.6615],"nice":false,"zero":false}},"text":{"field":"t"}}},
  {"data":{"name":"levels"},"mark":{"type":"tick","orient":"horizontal","size":22,"thickness":9,"color":"#FF0000","opacity":1},
   "encoding":{"x":{"datum":283.9},"y":{"field":"lv","type":"quantitative","scale":{"domain":[1.5804,1.6615],"nice":false,"zero":false}}}},
  {"data":{"name":"levels"},"mark":{"type":"text","color":"#FFFFFF","fontSize":6.5,"align":"center","baseline":"middle"},
   "encoding":{"x":{"datum":283.9},"y":{"field":"lv","type":"quantitative","scale":{"domain":[1.5804,1.6615],"nice":false,"zero":false}},"text":{"field":"t"}}},
  {"data":{"name":"bid"},"mark":{"type":"tick","orient":"horizontal","size":22,"thickness":9,"color":"#000000","opacity":1},
   "encoding":{"x":{"datum":283.9},"y":{"field":"lv","type":"quantitative","scale":{"domain":[1.5804,1.6615],"nice":false,"zero":false}}}},
  {"data":{"name":"bid"},"mark":{"type":"text","color":"#FFFFFF","fontSize":6.5,"align":"center","baseline":"middle"},
   "encoding":{"x":{"datum":283.9},"y":{"field":"lv","type":"quantitative","scale":{"domain":[1.5804,1.6615],"nice":false,"zero":false}},"text":{"field":"t"}}},
  {"data":{"name":"title"},"mark":{"type":"text","color":"#000000","fontSize":5.8,"align":"left","baseline":"middle","font":"DejaVu Sans"},
   "encoding":{"x":{"datum":0.4},"y":{"datum":1.6596},"text":{"field":"t"}}}
 ]
},
{
 "width": 659, "height": 69,
 "layer": [
  {"data":{"name":"vgrid"},"mark":{"type":"rule","color":"#B4B4B4","strokeDash":[1,2],"strokeWidth":1},
   "encoding":{"x":{"field":"i","type":"quantitative","scale":{"domain":[-0.424,278.81],"nice":false,"zero":false},"axis":{"orient":"bottom","values":[0,16,32,48,64,80,96,112,128,144,160,176,192,208],"labelExpr":"['9 Sep 2014','12 Sep 08:00','17 Sep 08:00','19 Sep 16:00','24 Sep 16:00','29 Sep 08:00','2 Oct 00:00','6 Oct 16:00','9 Oct 08:00','14 Oct 00:00','16 Oct 16:00','21 Oct 08:00','24 Oct 00:00','28 Oct 16:00'][round(datum.value/16)]","labelAlign":"left","labelFontSize":5.8,"tickSize":2,"labelPadding":0,"grid":false,"domain":true,"labelOverlap":false,"labelSeparation":0,"labelBound":false,"labelFlush":false}}}},
  {"data":{"name":"candles"},"mark":{"type":"bar","color":"#C0C0C0","size":1,"orient":"vertical"},
   "encoding":{"x":{"field":"i","type":"quantitative","scale":{"domain":[-0.424,278.81],"nice":false,"zero":false}},
    "y":{"field":"m","type":"quantitative","scale":{"domain":[-0.0109,0.0062],"nice":false,"zero":false},"axis":{"orient":"right","values":[0.0057,0,-0.01066],"labelExpr":"datum.value == 0 ? '0.00' : (datum.value > 0 ? '0.0057' : '')","grid":false,"tickSize":1,"labelFontSize":5.8,"labelPadding":0,"labelOverlap":false,"encode":{"labels":{"update":{"dy":{"signal":"datum.value > 0 ? 4 : 0"}}}}}},
    "y2":{"datum":0}}},
  {"data":{"name":"bid"},"mark":{"type":"rule","color":"#B4B4B4","strokeDash":[1,2]},
   "encoding":{"y":{"datum":0,"type":"quantitative","scale":{"domain":[-0.0109,0.0062],"nice":false,"zero":false}}}},
  {"data":{"name":"signal"},"mark":{"type":"line","color":"#FF2020","strokeWidth":1,"strokeDash":[1.5,1.5]},
   "encoding":{"x":{"field":"i","type":"quantitative","scale":{"domain":[-0.424,278.81],"nice":false,"zero":false}},"y":{"field":"v","type":"quantitative","scale":{"domain":[-0.0109,0.0062],"nice":false,"zero":false}}}},
  {"data":{"name":"macdmin"},"mark":{"type":"text","color":"#000000","fontSize":5.8,"align":"right","baseline":"middle","dy":-1},
   "encoding":{"x":{"datum":288.2},"y":{"field":"v","type":"quantitative","scale":{"domain":[-0.0109,0.0062],"nice":false,"zero":false}},"text":{"field":"t"}}},
  {"data":{"name":"macdtitle"},"mark":{"type":"text","color":"#000000","fontSize":5.8,"align":"left","baseline":"middle","font":"DejaVu Sans"},
   "encoding":{"x":{"datum":0.85},"y":{"datum":0.0050},"text":{"field":"t"}}}
 ]
}
]
}
